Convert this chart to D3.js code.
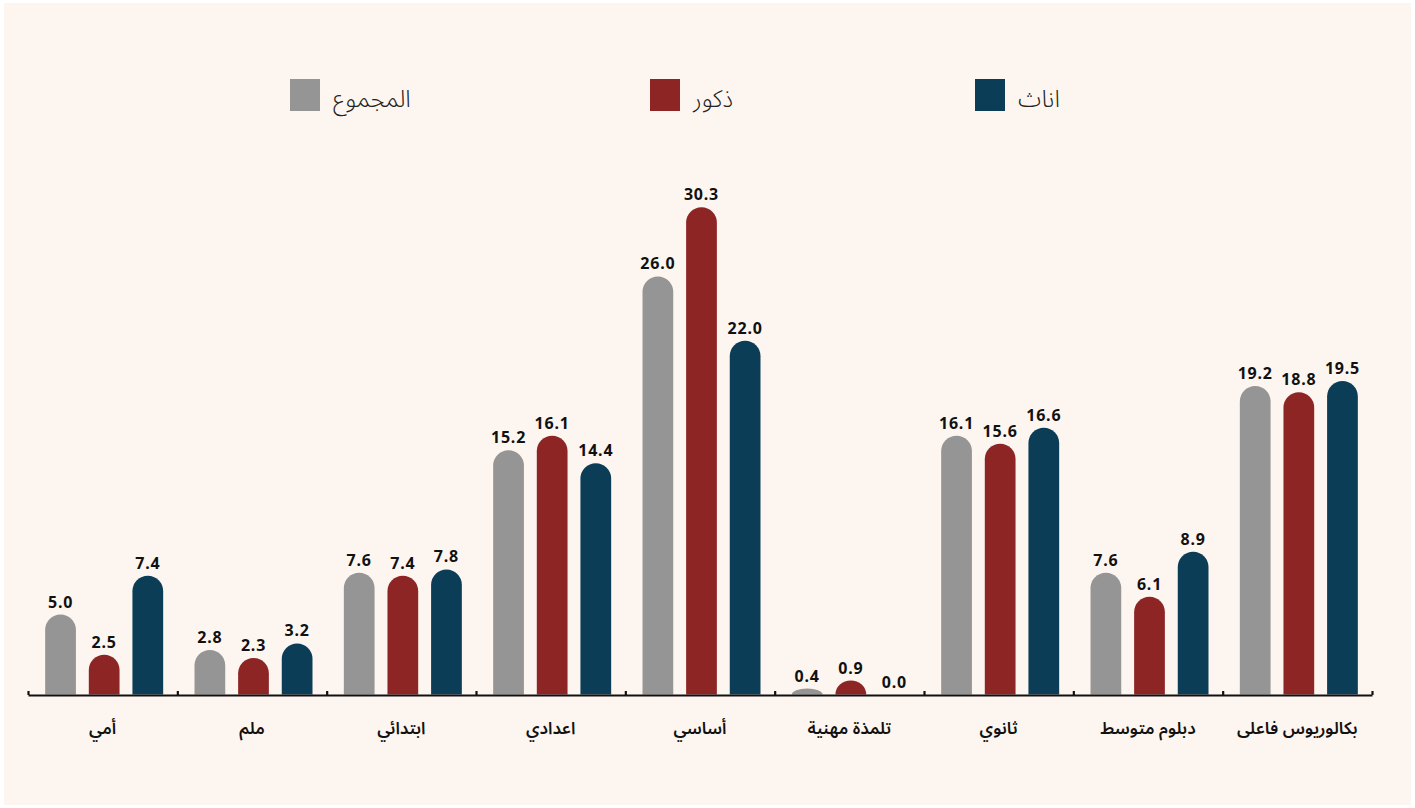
<!DOCTYPE html>
<html>
<head>
<meta charset="utf-8">
<script src="https://cdn.jsdelivr.net/npm/d3@7"></script>
<style>
  html, body { margin: 0; padding: 0; background: #ffffff; }
  svg { display: block; }
</style>
</head>
<body>
<svg id="chart" width="1415" height="808"></svg>
<script>
const categories = ["أمي", "ملم", "ابتدائي", "اعدادي", "أساسي", "تلمذة مهنية", "ثانوي", "دبلوم متوسط", "بكالوريوس فاعلى"];
const seriesNames = ["المجموع", "ذكور", "اناث"];
const totalValues  = [5.0, 2.8, 7.6, 15.2, 26.0, 0.4, 16.1, 7.6, 19.2];
const maleValues   = [2.5, 2.3, 7.4, 16.1, 30.3, 0.9, 15.6, 6.1, 18.8];
const femaleValues = [7.4, 3.2, 7.8, 14.4, 22.0, 0.0, 16.6, 8.9, 19.5];
const seriesColors = ["#959595", "#8e2525", "#0c3d57"];

const seriesValues = [totalValues, maleValues, femaleValues];
const data = categories.map((c, i) => ({
  cat: c,
  vals: seriesNames.map((s, j) => ({ key: s, value: seriesValues[j][i], color: seriesColors[j] }))
}));

const svg = d3.select("#chart");
svg.append("rect").attr("x", 4).attr("y", 3).attr("width", 1407).attr("height", 802).attr("fill", "#fdf6f0");

const left = 28, right = 1372, baseY = 695;
const x0 = d3.scaleBand().domain(categories).range([left, right]).paddingInner(0).paddingOuter(0);
const subSpan = 118;
const x1 = d3.scaleBand().domain(seriesNames).range([0, subSpan]).paddingInner(13 / 44).paddingOuter(0);
const y = d3.scaleLinear().domain([0, 30.3]).range([baseY, baseY - 30.3 * 16.1]);

function barPath(x, w, top, bottom) {
  const h = bottom - top;
  if (h <= 0.01) return "";
  const r = w / 2;
  const ry = Math.min(r, h);
  return `M${x},${bottom} L${x},${top + ry} A${r},${ry} 0 0 1 ${x + w},${top + ry} L${x + w},${bottom} Z`;
}

const groups = svg.append("g").selectAll("g").data(data).join("g")
  .attr("transform", d => `translate(${x0(d.cat) + (x0.bandwidth() - subSpan) / 2 + 1.5},0)`);

groups.selectAll("path").data(d => d.vals).join("path")
  .attr("d", d => barPath(x1(d.key), x1.bandwidth(), y(d.value), y(0) - 0.5))
  .attr("fill", d => d.color);

groups.selectAll("text.val").data(d => d.vals).join("text")
  .attr("class", "val")
  .attr("x", d => x1(d.key) + x1.bandwidth() / 2)
  .attr("y", d => y(d.value) - 7)
  .attr("text-anchor", "middle")
  .attr("font-family", "'Noto Sans', 'DejaVu Sans', sans-serif")
  .attr("font-weight", 700)
  .attr("font-size", 16)
  .attr("letter-spacing", 0.8)
  .attr("fill", "#111")
  .text(d => d.value.toFixed(1));

// axis with boundary ticks
const bScale = d3.scaleLinear().domain([0, categories.length]).range([left, right]);
const axis = d3.axisBottom(bScale).tickValues(d3.range(categories.length + 1))
  .tickSize(-4).tickSizeOuter(0).tickFormat("");
const ax = svg.append("g").attr("transform", `translate(0,${baseY})`).call(axis);
ax.select(".domain").attr("stroke", "#111").attr("stroke-width", 2.2);
ax.selectAll(".tick line").attr("stroke", "#111").attr("stroke-width", 2.2);

// category labels
svg.append("g").selectAll("text").data(categories).join("text")
  .attr("x", d => x0(d) + x0.bandwidth() / 2)
  .attr("y", 734)
  .attr("text-anchor", "middle")
  .attr("font-family", "'Noto Sans Arabic', 'DejaVu Sans', sans-serif")
  .attr("font-weight", 600)
  .attr("font-size", 17)
  .attr("fill", "#111")
  .text(d => d);

// legend
const legendX = [290, 650, 975];
const lg = svg.append("g").selectAll("g").data(seriesNames).join("g")
  .attr("transform", (d, i) => `translate(${legendX[i]},79)`);
lg.append("rect").attr("width", 30).attr("height", 32).attr("fill", (d, i) => seriesColors[i]);
lg.append("text")
  .attr("x", 43).attr("y", 28)
  .attr("text-anchor", "start")
  .attr("direction", "ltr")
  .attr("font-family", "'Noto Sans Arabic', 'DejaVu Sans', sans-serif")
  .attr("font-weight", 300)
  .attr("font-size", 24)
  .attr("fill", "#222")
  .text(d => d);
</script>
</body>
</html>
